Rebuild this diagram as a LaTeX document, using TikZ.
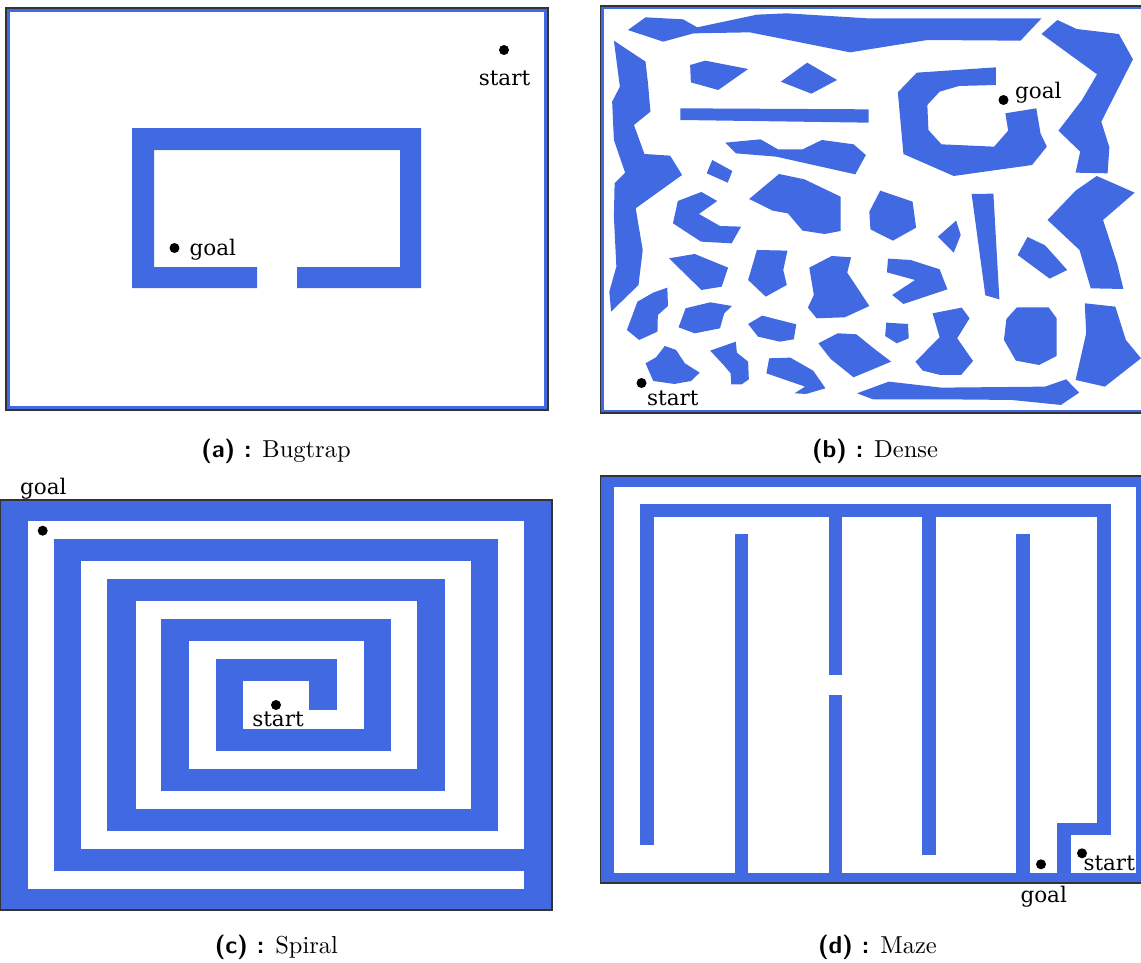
\documentclass[tikz,border=0pt]{standalone}
\usepackage{fontspec}
\setmainfont{lmroman10-regular.otf}[BoldFont=lmroman10-bold.otf,ItalicFont=lmroman10-italic.otf]
\newfontfamily\labfont{DejaVu Serif}
\definecolor{rb}{RGB}{65,105,225}
\begin{document}
\begin{tikzpicture}[x=1pt,y=-1pt,
  wall/.style={fill=rb, draw=none},
  hole/.style={fill=white, draw=none},
  dot/.style={circle, fill=black, inner sep=0pt, minimum size=10pt},
  lab/.style={font=\labfont\fontsize{21.5}{25}\selectfont, inner sep=0pt, anchor=base},
  captext/.style={font=\fontsize{24.5}{29}\selectfont, inner sep=0pt, anchor=base},
  frameline/.style={draw=black!80, line width=1.2pt},
  border/.style={draw=rb, line width=4pt}]
\useasboundingbox (0,0) rectangle (1141,962);
\fill[white] (0,0) rectangle (1141,962);

% ---------------- (a) Bugtrap ----------------
\draw[border] (8.2,10.2) rectangle (545.8,407.8);
\draw[frameline] (6,8) rectangle (548,410);
\fill[wall] (132,128) -- (421,128) -- (421,288) -- (297,288) -- (297,267) -- (400,267)
  -- (400,150) -- (154,150) -- (154,267) -- (257,267) -- (257,288) -- (132,288) -- cycle;
\node[dot] (as) at (504,50) {};
\node[lab] (asl) at (504.5,85) {start};
\node[dot] (ag) at (174.5,248) {};
\node[lab, anchor=base west] (agl) at (189.5,255) {goal};

% ---------------- (b) Dense ----------------
\draw[draw=rb, line width=3pt] (602.5,7.8) rectangle (1152,411.2);
\draw[frameline] (600.5,6) rectangle (1153,413);
\begin{scope}[shift={(590,0)},xscale=0.3514,yscale=0.3333]
\fill[wall] (108,90)--(158,52)--(265,58)--(305,82)--(475,44)--(560,40)--(790,55)--(1285,55)--(1225,122)--(960,120)--(740,157)--(455,97)--(295,100)--(208,125)--cycle;
\fill[wall] (1285,102)--(1330,60)--(1385,87)--(1505,102)--(1545,178)--(1455,365)--(1478,442)--(1473,520)--(1382,518)--(1395,455)--(1333,392)--(1400,300)--(1443,223)--cycle;
\fill[wall] (68,122)--(158,185)--(165,250)--(172,335)--(125,375)--(155,462)--(228,467)--(262,525)--(130,625)--(150,750)--(138,855)--(60,935)--(55,875)--(75,800)--(68,650)--(70,550)--(100,518)--(68,420)--(63,305)--(85,260)--cycle;
\fill[wall] (285,195)--(328,182)--(450,207)--(365,270)--(287,247)--cycle;
\fill[wall] (543,245)--(618,188)--(703,240)--(630,281)--cycle;
\fill[wall] (257,325)--(793,328)--(793,368)--(257,360)--cycle;
\fill[wall] (876,277)--(930,218)--(1155,202)--(1155,255)--(1050,258)--(995,275)--(960,315)--(963,390)--(1000,433)--(1150,440)--(1190,392)--(1182,340)--(1270,325)--(1282,400)--(1300,440)--(1258,495)--(1035,528)--(892,462)--cycle;
\fill[wall] (385,428)--(485,418)--(535,448)--(605,448)--(660,420)--(750,433)--(785,465)--(755,523)--(530,470)--(415,460)--cycle;
\fill[wall] (348,480)--(405,513)--(392,548)--(332,520)--cycle;
\fill[wall] (453,597)--(538,522)--(610,538)--(713,590)--(713,693)--(668,702)--(605,692)--(563,640)--(520,632)--cycle;
\fill[wall] (250,603)--(317,576)--(362,603)--(310,642)--(370,678)--(430,680)--(403,730)--(316,725)--(236,670)--cycle;
\fill[wall] (795,635)--(826,572)--(918,605)--(928,683)--(862,722)--(798,688)--cycle;
\fill[wall] (990,710)--(1042,662)--(1055,705)--(1035,758)--cycle;
\fill[wall] (1086,582)--(1148,581)--(1165,898)--(1125,886)--cycle;
\fill[wall] (1302,660)--(1382,572)--(1442,528)--(1550,578)--(1460,660)--(1500,790)--(1518,867)--(1425,865)--(1393,750)--cycle;
\fill[wall] (1217,765)--(1245,711)--(1295,736)--(1358,810)--(1308,836)--cycle;
\fill[wall] (225,775)--(298,762)--(393,803)--(375,860)--(317,870)--cycle;
\fill[wall] (475,750)--(562,752)--(550,810)--(560,855)--(500,890)--(450,840)--cycle;
\fill[wall] (624,803)--(688,768)--(743,772)--(732,818)--(795,918)--(725,952)--(645,955)--(620,923)--(637,885)--cycle;
\fill[wall] (848,776)--(912,780)--(995,808)--(1017,868)--(892,912)--(860,885)--(925,840)--(845,817)--cycle;
\fill[wall] (105,990)--(135,905)--(180,878)--(220,863)--(222,918)--(193,945)--(192,995)--(140,1020)--cycle;
\fill[wall] (272,925)--(342,907)--(404,918)--(382,940)--(370,985)--(298,1000)--(252,982)--cycle;
\fill[wall] (450,972)--(490,947)--(587,973)--(580,1018)--(540,1025)--(478,1010)--cycle;
\fill[wall] (843,968)--(905,972)--(907,1015)--(873,1030)--(840,1008)--cycle;
\fill[wall] (975,940)--(1058,923)--(1080,955)--(1045,1015)--(1090,1083)--(1056,1125)--(997,1125)--(947,1112)--(926,1085)--(995,1012)--cycle;
\fill[wall] (1185,957)--(1215,922)--(1305,922)--(1328,955)--(1328,1068)--(1278,1095)--(1212,1082)--(1178,1020)--cycle;
\fill[wall] (1408,910)--(1495,920)--(1525,1020)--(1568,1075)--(1465,1160)--(1382,1140)--(1412,1000)--cycle;
\fill[wall] (158,1090)--(188,1072)--(213,1038)--(245,1050)--(270,1090)--(312,1118)--(288,1143)--(240,1152)--(180,1143)--cycle;
\fill[wall] (342,1052)--(415,1025)--(418,1058)--(450,1085)--(452,1138)--(432,1153)--(402,1153)--(400,1120)--(380,1095)--cycle;
\fill[wall] (510,1075)--(570,1073)--(635,1112)--(670,1165)--(615,1182)--(582,1180)--(612,1160)--(502,1120)--cycle;
\fill[wall] (650,1030)--(705,1000)--(758,1003)--(807,1045)--(857,1085)--(750,1132)--(685,1077)--cycle;
\fill[wall] (760,1180)--(850,1145)--(1000,1163)--(1295,1160)--(1355,1138)--(1392,1178)--(1340,1215)--(1200,1200)--(1000,1198)--(805,1198)--cycle;
\end{scope}
\node[dot] (bg) at (1003.5,100) {};
\node[lab, anchor=base west] (bgl) at (1015,98.5) {goal};
\node[dot] (bs) at (641.5,383) {};
\node[lab, anchor=base west] (bsl) at (647,405) {start};

% ---------------- (c) Spiral ----------------
\fill[wall] (0,500) rectangle (552.5,910);
\fill[hole] (27.9,521) rectangle (524.3,539.3);
\fill[hole] (27.9,521) rectangle (53.6,889.3);
\fill[hole] (27.9,871) rectangle (524.3,889.3);
\fill[hole] (498.2,521) rectangle (524.3,849.3);
\fill[hole] (81.4,830.7) rectangle (524.3,849.3);
\fill[hole] (81.4,561) rectangle (107.1,849.3);
\fill[hole] (81.4,561) rectangle (470.7,579);
\fill[hole] (444.6,561) rectangle (470.7,809.3);
\fill[hole] (135.7,790.7) rectangle (470.7,809.3);
\fill[hole] (135.7,601) rectangle (161.4,809.3);
\fill[hole] (135.7,601) rectangle (417.1,619);
\fill[hole] (391.1,601) rectangle (417.1,769.3);
\fill[hole] (189.3,750.7) rectangle (417.1,769.3);
\fill[hole] (189.3,641) rectangle (216.1,769.3);
\fill[hole] (189.3,641) rectangle (363.6,659.3);
\fill[hole] (337.1,641) rectangle (363.6,729.3);
\fill[hole] (242.9,710) rectangle (363.6,729.3);
\fill[hole] (242.9,680.7) rectangle (308.9,729.3);
\draw[frameline] (0.6,500) rectangle (552,910);
\node[dot] (cg) at (42.7,530.7) {};
\node[lab] (cgl) at (43.3,494) {goal};
\node[dot] (cs) at (276,705) {};
\node[lab] (csl) at (278,726.5) {start};

% ---------------- (d) Maze ----------------
\fill[wall] (600.5,476) rectangle (1150,883);
\fill[hole] (614,486.7) rectangle (1136.4,873.3);
\fill[wall] (640.2,504) rectangle (1111.1,516.7);
\fill[wall] (640.2,504) rectangle (654.3,845);
\fill[wall] (734.8,534) rectangle (748.1,874);
\fill[wall] (828.9,504) rectangle (842.3,675);
\fill[wall] (828.9,695) rectangle (842.3,874);
\fill[wall] (922,504) rectangle (936.1,855);
\fill[wall] (1016.2,534) rectangle (1030.3,874);
\fill[wall] (1097,504) rectangle (1111.1,835);
\fill[wall] (1056.6,823.3) rectangle (1111.1,835);
\fill[wall] (1056.6,823.3) rectangle (1070.7,874);
\draw[frameline] (600.5,476) rectangle (1152,883);
\node[dot] (ds) at (1082,853.3) {};
\node[lab, anchor=base west] (dsl) at (1083.3,870.5) {start};
\node[dot] (dg) at (1041,864.3) {};
\node[lab] (dgl) at (1043.7,902.5) {goal};

% ---------------- captions ----------------
\node[captext] (capa) at (276,457.5) {{\sffamily\bfseries (a) :} Bugtrap};
\node[captext] (capb) at (875,457.5) {{\sffamily\bfseries (b) :} Dense};
\node[captext] (capc) at (276.5,953) {{\sffamily\bfseries (c) :} Spiral};
\node[captext] (capd) at (877.5,953) {{\sffamily\bfseries (d) :} Maze};
\end{tikzpicture}
\end{document}
